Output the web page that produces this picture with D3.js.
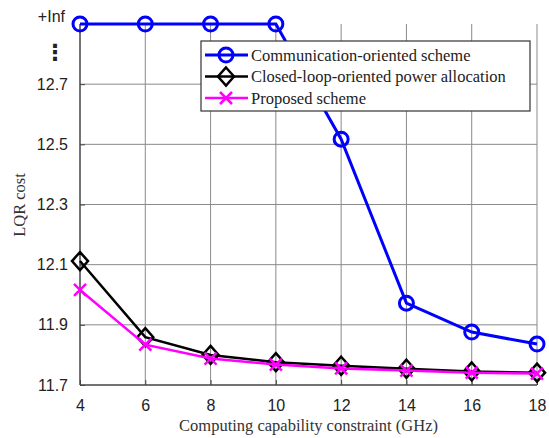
<!DOCTYPE html>
<html>
<head>
<meta charset="utf-8">
<script src="https://cdn.jsdelivr.net/npm/d3@7"></script>
<style>
  body { margin: 0; background: #fff; }
  .tick text { font-family: "Liberation Sans", Arial, sans-serif; font-size: 16px; fill: #222; }
</style>
</head>
<body>
<div class="chart"></div>
<script>
const width = 549
const height = 438

// data
const capacity = [4, 6, 8, 10, 12, 14, 16, 18]
const commScheme = [Infinity, Infinity, Infinity, Infinity, 12.517, 11.972, 11.876, 11.836]
const closedLoop = [12.112, 11.859, 11.800, 11.776, 11.764, 11.754, 11.745, 11.741]
const proposed = [12.016, 11.834, 11.788, 11.768, 11.755, 11.748, 11.741, 11.738]
const yTickValues = [11.7, 11.9, 12.1, 12.3, 12.5, 12.7]
const infLevel = 12.9   // where "+Inf" sits on the axis

const margin = { top: 24, right: 12, left: 80, bottom: 53 }
const innerWidth = width - margin.left - margin.right
const innerHeight = height - margin.top - margin.bottom

const svg = d3.select(".chart")
    .append("svg")
    .attr("width", width)
    .attr("height", height)

const xScale = d3.scaleLinear()
    .domain([4, 18])
    .range([0, innerWidth])

const yScale = d3.scaleLinear()
    .domain([11.7, infLevel])
    .range([innerHeight, 0])

const yOf = v => yScale(isFinite(v) ? v : infLevel)

const g = svg.append("g")
    .attr("transform", `translate(${margin.left}, ${margin.top})`)

//Grid
g.append("g").selectAll("line.v")
    .data(capacity.slice(1))
    .enter().append("line")
        .attr("x1", d => xScale(d)).attr("x2", d => xScale(d))
        .attr("y1", 0).attr("y2", innerHeight)
        .attr("stroke", "#8a8a8a").attr("stroke-width", 1)

g.append("g").selectAll("line.h")
    .data(yTickValues.slice(1))
    .enter().append("line")
        .attr("x1", 0).attr("x2", innerWidth)
        .attr("y1", d => yScale(d)).attr("y2", d => yScale(d))
        .attr("stroke", "#8a8a8a").attr("stroke-width", 1)

//Axes
const xAxis = g.append("g")
    .attr("transform", `translate(0, ${innerHeight})`)
    .call(d3.axisBottom(xScale).tickValues(capacity).tickSize(-5).tickPadding(15))

const yAxis = g.append("g")
    .call(d3.axisLeft(yScale).tickValues(yTickValues).tickFormat(d3.format(".1f")).tickSize(-5).tickPadding(12))

xAxis.select("path.domain").attr("stroke", "#444").attr("stroke-width", 1.5).attr("d", `M0,0H${innerWidth}`)
yAxis.select("path.domain").attr("stroke", "#444").attr("stroke-width", 1.5).attr("d", `M0,0V${innerHeight}`)
g.selectAll(".tick line").attr("stroke", "#444")

yAxis.append("text")
    .attr("x", -15).attr("y", yScale(infLevel) - 8)
    .attr("text-anchor", "end").attr("dy", "0.35em")
    .style("font-family", "Liberation Sans, Arial, sans-serif").style("font-size", "16px")
    .attr("fill", "#222")
    .text("+Inf")

yAxis.append("text")
    .attr("x", -25).attr("y", yScale(12.8) - 2)
    .attr("text-anchor", "middle").attr("dy", "0.35em")
    .style("font-family", "DejaVu Sans, sans-serif").style("font-size", "22px")
    .style("font-weight", "bold")
    .attr("fill", "#222")
    .text("⋮")

//Titles
svg.append("text")
    .attr("x", margin.left + innerWidth / 2).attr("y", 431)
    .attr("text-anchor", "middle")
    .style("font-family", "Liberation Serif, Times New Roman, serif").style("font-size", "16.5px")
    .attr("fill", "#333")
    .text("Computing capability constraint (GHz)")

svg.append("text")
    .attr("transform", "translate(19, 205) rotate(-90)")
    .attr("text-anchor", "middle").attr("dy", "0.35em")
    .style("font-family", "Liberation Serif, Times New Roman, serif").style("font-size", "16.5px")
    .attr("fill", "#333")
    .text("LQR cost")

//Series
const series = [
    { name: "Communication-oriented scheme", values: commScheme, color: "#0000ff", width: 3, marker: "circle" },
    { name: "Closed-loop-oriented power allocation", values: closedLoop, color: "#000000", width: 2.5, marker: "diamond" },
    { name: "Proposed scheme", values: proposed, color: "#ff00ff", width: 2.5, marker: "cross" },
]

const line = d3.line()
    .x((d, i) => xScale(capacity[i]))
    .y(d => yOf(d))

function drawMarker(sel, type, color) {
    if (type === "circle") {
        sel.append("circle").attr("r", 7)
            .attr("fill", "none").attr("stroke", color).attr("stroke-width", 3)
    } else if (type === "diamond") {
        sel.append("path").attr("d", "M0,-9L8,0L0,9L-8,0Z")
            .attr("fill", "none").attr("stroke", color).attr("stroke-width", 2.5)
    } else {
        sel.append("path").attr("d", "M-6,-6L6,6M-6,6L6,-6")
            .attr("fill", "none").attr("stroke", color).attr("stroke-width", 2.5)
    }
}

series.forEach(s => {
    g.append("path")
        .datum(s.values)
        .attr("d", line)
        .attr("fill", "none")
        .attr("stroke", s.color)
        .attr("stroke-width", s.width)

    g.selectAll(null)
        .data(s.values)
        .enter().append("g")
            .attr("transform", (d, i) => `translate(${xScale(capacity[i])}, ${yOf(d)})`)
            .each(function() { drawMarker(d3.select(this), s.marker, s.color) })
})

//Legend
const legend = svg.append("g").attr("transform", "translate(201, 41)")
legend.append("rect")
    .attr("width", 329).attr("height", 70)
    .attr("fill", "#fff").attr("stroke", "#333").attr("stroke-width", 1.2)

series.forEach((s, i) => {
    const row = legend.append("g").attr("transform", `translate(0, ${14 + i * 21.5})`)
    row.append("line")
        .attr("x1", 4).attr("x2", 47)
        .attr("stroke", s.color).attr("stroke-width", s.width)
    drawMarker(row.append("g").attr("transform", "translate(25, 0)"), s.marker, s.color)
    row.append("text")
        .attr("x", 50).attr("dy", "0.35em")
        .style("font-family", "Liberation Serif, Times New Roman, serif").style("font-size", "16.5px")
        .attr("fill", "#222")
        .text(s.name)
})
</script>
</body>
</html>
